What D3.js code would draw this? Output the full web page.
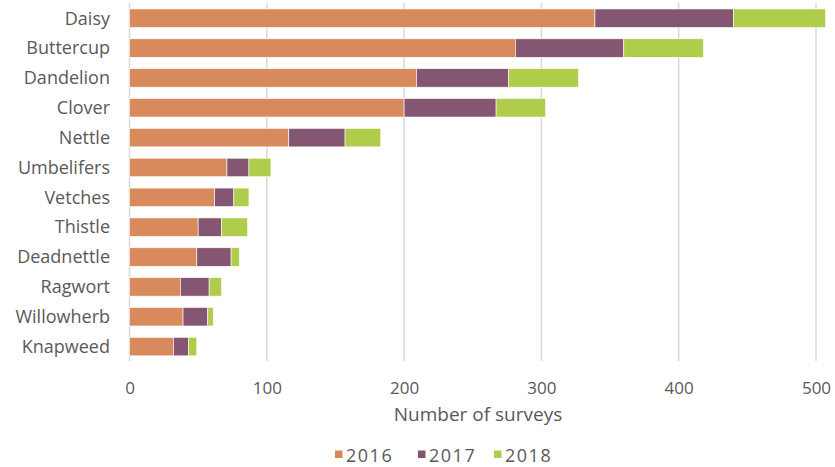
<!DOCTYPE html>
<html>
<head>
<meta charset="utf-8">
<script src="https://cdn.jsdelivr.net/npm/d3@7"></script>
<style>
  html, body { margin: 0; padding: 0; background: #fff; }
  svg text { font-family: "Open Sans", sans-serif; fill: #595959; }
</style>
</head>
<body>
<svg id="chart" width="835" height="467"></svg>
<script>
const categories = ["Daisy","Buttercup","Dandelion","Clover","Nettle","Umbelifers","Vetches","Thistle","Deadnettle","Ragwort","Willowherb","Knapweed"];
const years = ["2016","2017","2018"];
const values2016 = [339, 281, 209, 200, 116, 71, 62, 50, 49, 37, 39, 32];
const values2017 = [101, 79, 67, 67, 41, 16, 14, 17, 25, 21, 18, 11];
const values2018 = [67, 58, 51, 36, 26, 16, 11, 19, 6, 9, 4, 6];
const xTicks = [0, 100, 200, 300, 400, 500];
const colors = ["#D88A5C", "#845671", "#AFCC4B"];

const rows = categories.map((c, i) => ({cat: c, "2016": values2016[i], "2017": values2017[i], "2018": values2018[i]}));
const stacked = d3.stack().keys(years)(rows);

const svg = d3.select("#chart");
const x = d3.scaleLinear().domain([0, 500]).range([129.5, 816]);
const y = d3.scaleBand().domain(categories).range([3.3, 361.5]).paddingInner(0.38).paddingOuter(0.19);

// gridlines
svg.append("g").selectAll("line").data(xTicks).join("line")
  .attr("x1", d => x(d)).attr("x2", d => x(d))
  .attr("y1", 3).attr("y2", 361)
  .attr("stroke", "#d9d9d9").attr("stroke-width", 1.5);

// bars
svg.append("g").selectAll("g").data(stacked).join("g")
  .attr("fill", (d, i) => colors[i])
  .selectAll("rect").data(d => d).join("rect")
  .attr("x", d => x(d[0]))
  .attr("y", d => y(d.data.cat))
  .attr("width", d => x(d[1]) - x(d[0]))
  .attr("height", y.bandwidth())
  .attr("stroke", "#fff").attr("stroke-width", 0.6);

// category labels
const yAxis = d3.axisLeft(y).tickSize(0).tickPadding(0);
const ya = svg.append("g").attr("transform", "translate(110,0)").call(yAxis);
ya.select(".domain").remove();
ya.selectAll("text").style("font-size", "18px").style("font-family", "'Open Sans', sans-serif").attr("fill", "#595959").attr("dy", "0.35em");

// x tick labels
const xAxis = d3.axisBottom(x).tickValues(xTicks).tickSize(0).tickPadding(0);
const xa = svg.append("g").attr("transform", "translate(0,380)").call(xAxis);
xa.select(".domain").remove();
xa.selectAll("text").style("font-size", "17px").style("font-family", "'Open Sans', sans-serif").attr("fill", "#595959").attr("dy", "0.35em").attr("y", 8);

// axis title
svg.append("text").attr("x", 478).attr("y", 414).attr("text-anchor", "middle")
  .attr("dominant-baseline", "central").style("font-size", "19px").text("Number of surveys");

// legend
const legendX = [335, 418, 494];
const lg = svg.append("g").selectAll("g").data(years).join("g")
  .attr("transform", (d, i) => `translate(${legendX[i]},0)`);
lg.append("rect").attr("x", 0).attr("y", 450.5).attr("width", 7.5).attr("height", 7.5).attr("fill", (d, i) => colors[i]);
lg.append("text").attr("x", 11).attr("y", 455).attr("dominant-baseline", "central")
  .style("font-size", "18px").style("letter-spacing", "1.5px").text(d => d);
</script>
</body>
</html>
